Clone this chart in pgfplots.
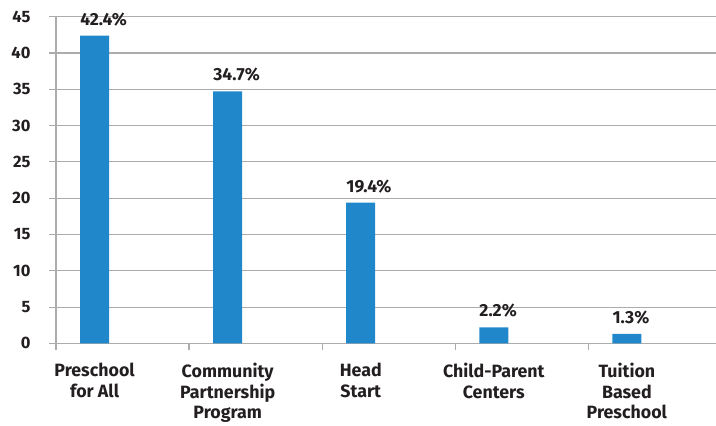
\documentclass[border=0pt]{standalone}
\usepackage{pgfplots}
\pgfplotsset{compat=1.18}
\usepackage{fontspec}
\setmainfont{Fira Sans}
\definecolor{barblue}{RGB}{31,135,202}
\definecolor{gridgray}{RGB}{172,172,172}
\definecolor{txt}{RGB}{35,31,32}
\begin{document}
\begin{tikzpicture}
\begin{axis}[
  scale only axis,
  width=660pt, height=326.7pt,
  xmin=-0.29, xmax=4.67,
  ymin=0, ymax=45,
  axis lines*=left,
  axis line style={draw=gridgray, line width=1.2pt},
  ymajorgrids,
  grid style={draw=gridgray, line width=1.2pt},
  ytick={0,5,...,45},
  tick align=outside,
  major tick length=7pt,
  tick style={draw=gridgray, line width=1.2pt},
  /pgf/number format/assume math mode=true,
  yticklabel style={font=\fontsize{16.5}{19}\selectfont\bfseries, text=txt, xshift=-15pt},
  xtick={-0.29,0.71,1.71,2.71,3.71},
  xticklabels={},
  extra x ticks={0,1,2,3,4},
  extra x tick labels={{Preschool\\for All},{Community\\Partnership\\Program},{Head\\Start},{Child-Parent\\Centers},{Tuition\\Based\\Preschool}},
  extra x tick style={grid=none, major tick length=0pt,
     xticklabel style={align=center, font=\fontsize{17.8}{20.8}\selectfont\bfseries, text=txt, yshift=-16pt}},
  clip=false,
]
\addplot[ybar, bar width=29pt, fill=barblue, draw=none,
  nodes near coords={\pgfmathprintnumber[fixed,precision=1]{\pgfplotspointmeta}\%},
  every node near coord/.append style={anchor=base west, inner sep=0pt, xshift=-14.5pt, yshift=10.5pt,
     font=\fontsize{17.5}{20}\selectfont\bfseries, text=txt},
] coordinates {(0,42.4) (1,34.7) (2,19.4) (3,2.2) (4,1.3)};
\end{axis}
\pgfresetboundingbox
\path[use as bounding box] ([xshift=-56pt,yshift=16.7pt]current axis.north west) rectangle ([yshift=-81.7pt]current axis.south east);
\end{tikzpicture}
\end{document}
